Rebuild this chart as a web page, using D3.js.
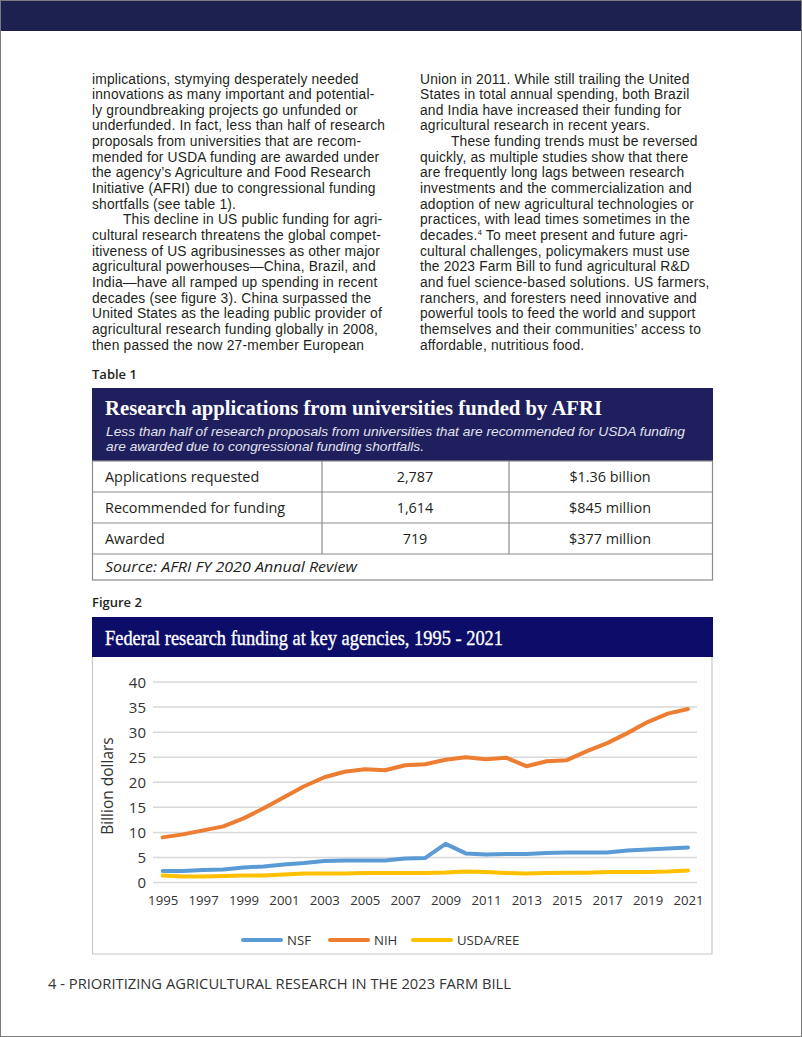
<!DOCTYPE html>
<html>
<head>
<meta charset="utf-8">
<script src="https://cdn.jsdelivr.net/npm/d3@7"></script>
<style>
  html, body { margin: 0; padding: 0; background: #fff; }
  svg { display: block; }
</style>
</head>
<body>
<div id="page"></div>
<script>
// ---------------- DATA ----------------
const years = d3.range(1995, 2022);
const nsf = [2.3, 2.3, 2.5, 2.6, 3.0, 3.2, 3.6, 3.9, 4.3, 4.4, 4.4, 4.4, 4.8, 4.9, 7.7, 5.8, 5.6, 5.7, 5.7, 5.9, 6.0, 6.0, 6.0, 6.4, 6.6, 6.8, 7.0];
const nih = [9.0, 9.6, 10.4, 11.2, 12.8, 14.8, 17.0, 19.2, 21.0, 22.1, 22.6, 22.4, 23.4, 23.6, 24.5, 25.0, 24.6, 24.9, 23.2, 24.2, 24.4, 26.2, 27.8, 29.8, 32.0, 33.7, 34.6];
const usda = [1.4, 1.2, 1.2, 1.3, 1.4, 1.4, 1.6, 1.8, 1.8, 1.8, 1.9, 1.9, 1.9, 1.9, 2.0, 2.2, 2.1, 1.9, 1.8, 1.9, 1.95, 1.95, 2.1, 2.1, 2.1, 2.2, 2.4];
const seriesNames = ["NSF", "NIH", "USDA/REE"];
const yTicks = [0, 5, 10, 15, 20, 25, 30, 35, 40];
const xTicks = d3.range(1995, 2022, 2);

const tableRows = ["Applications requested", "Recommended for funding", "Awarded"];
const tableCounts = ["2,787", "1,614", "719"];
const tableAmounts = ["$1.36 billion", "$845 million", "$377 million"];

const leftLines = [
  "implications, stymying desperately needed",
  "innovations as many important and potential-",
  "ly groundbreaking projects go unfunded or",
  "underfunded. In fact, less than half of research",
  "proposals from universities that are recom-",
  "mended for USDA funding are awarded under",
  "the agency’s Agriculture and Food Research",
  "Initiative (AFRI) due to congressional funding",
  "shortfalls (see table 1).",
  "\tThis decline in US public funding for agri-",
  "cultural research threatens the global compet-",
  "itiveness of US agribusinesses as other major",
  "agricultural powerhouses—China, Brazil, and",
  "India—have all ramped up spending in recent",
  "decades (see figure 3). China surpassed the",
  "United States as the leading public provider of",
  "agricultural research funding globally in 2008,",
  "then passed the now 27-member European"
];
const rightLines = [
  "Union in 2011. While still trailing the United",
  "States in total annual spending, both Brazil",
  "and India have increased their funding for",
  "agricultural research in recent years.",
  "\tThese funding trends must be reversed",
  "quickly, as multiple studies show that there",
  "are frequently long lags between research",
  "investments and the commercialization and",
  "adoption of new agricultural technologies or",
  "practices, with lead times sometimes in the",
  "decades.^4 To meet present and future agri-",
  "cultural challenges, policymakers must use",
  "the 2023 Farm Bill to fund agricultural R&D",
  "and fuel science-based solutions. US farmers,",
  "ranchers, and foresters need innovative and",
  "powerful tools to feed the world and support",
  "themselves and their communities’ access to",
  "affordable, nutritious food."
];

// ---------------- DRAW ----------------
const W = 802, H = 1037;
const NAVY_TOP = "#1c2150", NAVY_TBL = "#1f1f5e", NAVY_FIG = "#0b0d68";
const TEXT = "#231f20";
const BODY_FONT = "'Open Sans', 'Noto Sans', sans-serif";
const PARA_FONT = "'Liberation Sans', Arial, sans-serif";
const SERIF = "'Liberation Serif', 'DejaVu Serif', serif";
const colors = { "NSF": "#5b9bd5", "NIH": "#ed7d31", "USDA/REE": "#ffc000" };

const svg = d3.select("#page").append("svg").attr("width", W).attr("height", H);

svg.append("rect").attr("x", 0).attr("y", 0).attr("width", W).attr("height", H).attr("fill", "#fff");
svg.append("rect").attr("x", 0).attr("y", 0).attr("width", W).attr("height", 31).attr("fill", NAVY_TOP);
svg.append("rect").attr("x", 0.5).attr("y", 0.5).attr("width", W - 1).attr("height", H - 1)
  .attr("fill", "none").attr("stroke", "#7a7a7a").attr("stroke-width", 1);

// body text columns
function drawColumn(lines, x0) {
  const g = svg.append("g");
  lines.forEach((ln, i) => {
    let indent = 0, s = ln;
    if (s.startsWith("\t")) { indent = 31; s = s.slice(1); }
    const ly = 83.5 + i * 15.65;
    const t = g.append("text").attr("x", x0 + indent).attr("y", ly)
      .attr("font-family", PARA_FONT).attr("font-size", 13.8)
      .attr("letter-spacing", 0.18).attr("fill", TEXT);
    if (s.includes("^4")) {
      const parts = s.split("^4");
      t.append("tspan").text(parts[0]);
      t.append("tspan").attr("font-size", 8).attr("dy", -5).text("4");
      t.append("tspan").attr("dy", 5).text(parts[1]);
    } else {
      t.text(s);
    }
  });
}
drawColumn(leftLines, 92);
drawColumn(rightLines, 420);

// ---------------- TABLE ----------------
svg.append("text").attr("x", 92).attr("y", 379).attr("font-family", BODY_FONT)
  .attr("font-size", 13).attr("font-weight", 600).attr("fill", TEXT).text("Table 1");

const tb = { x: 92, y: 388, w: 621, hh: 73, rh: 31, sh: 26 };
svg.append("rect").attr("x", tb.x).attr("y", tb.y).attr("width", tb.w).attr("height", tb.hh).attr("fill", NAVY_TBL);
svg.append("text").attr("x", 105).attr("y", 415).attr("font-family", SERIF).attr("font-weight", "bold")
  .attr("font-size", 20).attr("fill", "#fff").attr("textLength", 497).attr("lengthAdjust", "spacingAndGlyphs")
  .text("Research applications from universities funded by AFRI");
svg.append("text").attr("x", 106).attr("y", 435.5).attr("font-family", PARA_FONT).attr("font-style", "italic")
  .attr("font-size", 13.4).attr("fill", "#e2e2ec").attr("textLength", 579).attr("lengthAdjust", "spacingAndGlyphs")
  .text("Less than half of research proposals from universities that are recommended for USDA funding");
svg.append("text").attr("x", 106).attr("y", 451).attr("font-family", PARA_FONT).attr("font-style", "italic")
  .attr("font-size", 13.4).attr("fill", "#e2e2ec").attr("textLength", 318).attr("lengthAdjust", "spacingAndGlyphs")
  .text("are awarded due to congressional funding shortfalls.");

const rowTop = tb.y + tb.hh;
const bodyH = tb.rh * 3 + tb.sh;
const tblLine = "#8c8c8c";
svg.append("rect").attr("x", tb.x + 0.5).attr("y", rowTop).attr("width", tb.w - 1).attr("height", bodyH)
  .attr("fill", "none").attr("stroke", tblLine).attr("stroke-width", 1.2);
for (let i = 1; i <= 3; i++) {
  svg.append("line").attr("x1", tb.x).attr("x2", tb.x + tb.w)
    .attr("y1", rowTop + i * tb.rh).attr("y2", rowTop + i * tb.rh).attr("stroke", tblLine).attr("stroke-width", 1.2);
}
[322, 509].forEach(xx => {
  svg.append("line").attr("x1", xx).attr("x2", xx).attr("y1", rowTop).attr("y2", rowTop + 3 * tb.rh)
    .attr("stroke", tblLine).attr("stroke-width", 1.2);
});
tableRows.forEach((r, i) => {
  const yy = rowTop + i * tb.rh + tb.rh / 2 + 5;
  svg.append("text").attr("x", 105).attr("y", yy).attr("font-family", BODY_FONT).attr("font-size", 14.4)
    .attr("fill", TEXT).text(r);
  svg.append("text").attr("x", 415).attr("y", yy).attr("text-anchor", "middle").attr("font-family", BODY_FONT)
    .attr("font-size", 14.4).attr("fill", TEXT).text(tableCounts[i]);
  svg.append("text").attr("x", 610).attr("y", yy).attr("text-anchor", "middle").attr("font-family", BODY_FONT)
    .attr("font-size", 14.4).attr("fill", TEXT).text(tableAmounts[i]);
});
svg.append("text").attr("x", 105).attr("y", rowTop + 3 * tb.rh + 18).attr("font-family", BODY_FONT)
  .attr("font-style", "italic").attr("font-size", 14.4).attr("fill", TEXT)
  .attr("textLength", 252).attr("lengthAdjust", "spacingAndGlyphs")
  .text("Source: AFRI FY 2020 Annual Review");

// ---------------- FIGURE ----------------
svg.append("text").attr("x", 92).attr("y", 607).attr("font-family", BODY_FONT)
  .attr("font-size", 13).attr("font-weight", 600).attr("fill", TEXT).text("Figure 2");

const fig = { x: 92, y: 617, w: 621, hh: 40, bottom: 954 };
svg.append("rect").attr("x", fig.x).attr("y", fig.y).attr("width", fig.w).attr("height", fig.hh).attr("fill", NAVY_FIG);
svg.append("text").attr("x", 105).attr("y", 645).attr("font-family", SERIF)
  .attr("font-size", 21).attr("fill", "#fff").attr("stroke", "#fff").attr("stroke-width", 0.35)
  .attr("textLength", 398).attr("lengthAdjust", "spacingAndGlyphs")
  .text("Federal research funding at key agencies, 1995 - 2021");
svg.append("path")
  .attr("d", `M${fig.x + 0.5},${fig.y + fig.hh} V${fig.bottom} H${fig.x + fig.w - 1} V${fig.y + fig.hh}`)
  .attr("fill", "none").attr("stroke", "#c8c8c8").attr("stroke-width", 1.2);

const x = d3.scaleLinear().domain([1995, 2021]).range([162.7, 688]);
const y = d3.scaleLinear().domain([0, 40]).range([882.5, 682]);

// gridlines
const gridG = svg.append("g");
gridG.selectAll("line").data(yTicks).join("line")
  .attr("x1", 153).attr("x2", 697)
  .attr("y1", d => y(d)).attr("y2", d => y(d))
  .attr("stroke", "#d9d9d9").attr("stroke-width", 1.5);

// y axis
const yAxis = d3.axisLeft(y).tickValues(yTicks).tickSize(0).tickPadding(0).tickFormat(d3.format("d"));
const yg = svg.append("g").attr("transform", "translate(146,0)").call(yAxis);
yg.select(".domain").remove();
yg.selectAll("text").attr("font-family", BODY_FONT).attr("font-size", 15).attr("fill", "#333").attr("dy", "0.36em");

// x axis
const xAxis = d3.axisBottom(x).tickValues(xTicks).tickSize(0).tickPadding(0).tickFormat(d3.format("d"));
const xg = svg.append("g").attr("transform", "translate(0,896)").call(xAxis);
xg.select(".domain").remove();
xg.selectAll("text").attr("font-family", BODY_FONT).attr("font-size", 13.2).attr("fill", "#333").attr("dy", "0.71em");

svg.append("text").attr("transform", "translate(113,786) rotate(-90)").attr("text-anchor", "middle")
  .attr("font-family", BODY_FONT).attr("font-size", 15.5).attr("fill", "#333").text("Billion dollars");

// lines
const seriesData = [
  { name: "NSF", values: nsf },
  { name: "NIH", values: nih },
  { name: "USDA/REE", values: usda }
];
const lineGen = d3.line().x((d, i) => x(years[i])).y(d => y(d));
svg.append("g").selectAll("path").data([seriesData[2], seriesData[0], seriesData[1]]).join("path")
  .attr("d", d => lineGen(d.values))
  .attr("fill", "none").attr("stroke", d => colors[d.name])
  .attr("stroke-width", 4).attr("stroke-linejoin", "round").attr("stroke-linecap", "round");

// legend
const legendItems = [
  { name: "NSF", x: 243 },
  { name: "NIH", x: 330 },
  { name: "USDA/REE", x: 413 }
];
const lg = svg.append("g");
legendItems.forEach(it => {
  lg.append("line").attr("x1", it.x).attr("x2", it.x + 38).attr("y1", 940).attr("y2", 940)
    .attr("stroke", colors[it.name]).attr("stroke-width", 4).attr("stroke-linecap", "round");
  lg.append("text").attr("x", it.x + 44).attr("y", 945).attr("font-family", BODY_FONT).attr("font-size", 13.2)
    .attr("fill", "#333").text(it.name);
});

// footer
svg.append("text").attr("x", 48).attr("y", 989).attr("font-family", BODY_FONT).attr("font-size", 14)
  .attr("fill", "#333").attr("textLength", 463).attr("lengthAdjust", "spacingAndGlyphs")
  .text("4 - PRIORITIZING AGRICULTURAL RESEARCH IN THE 2023 FARM BILL");
</script>
</body>
</html>
